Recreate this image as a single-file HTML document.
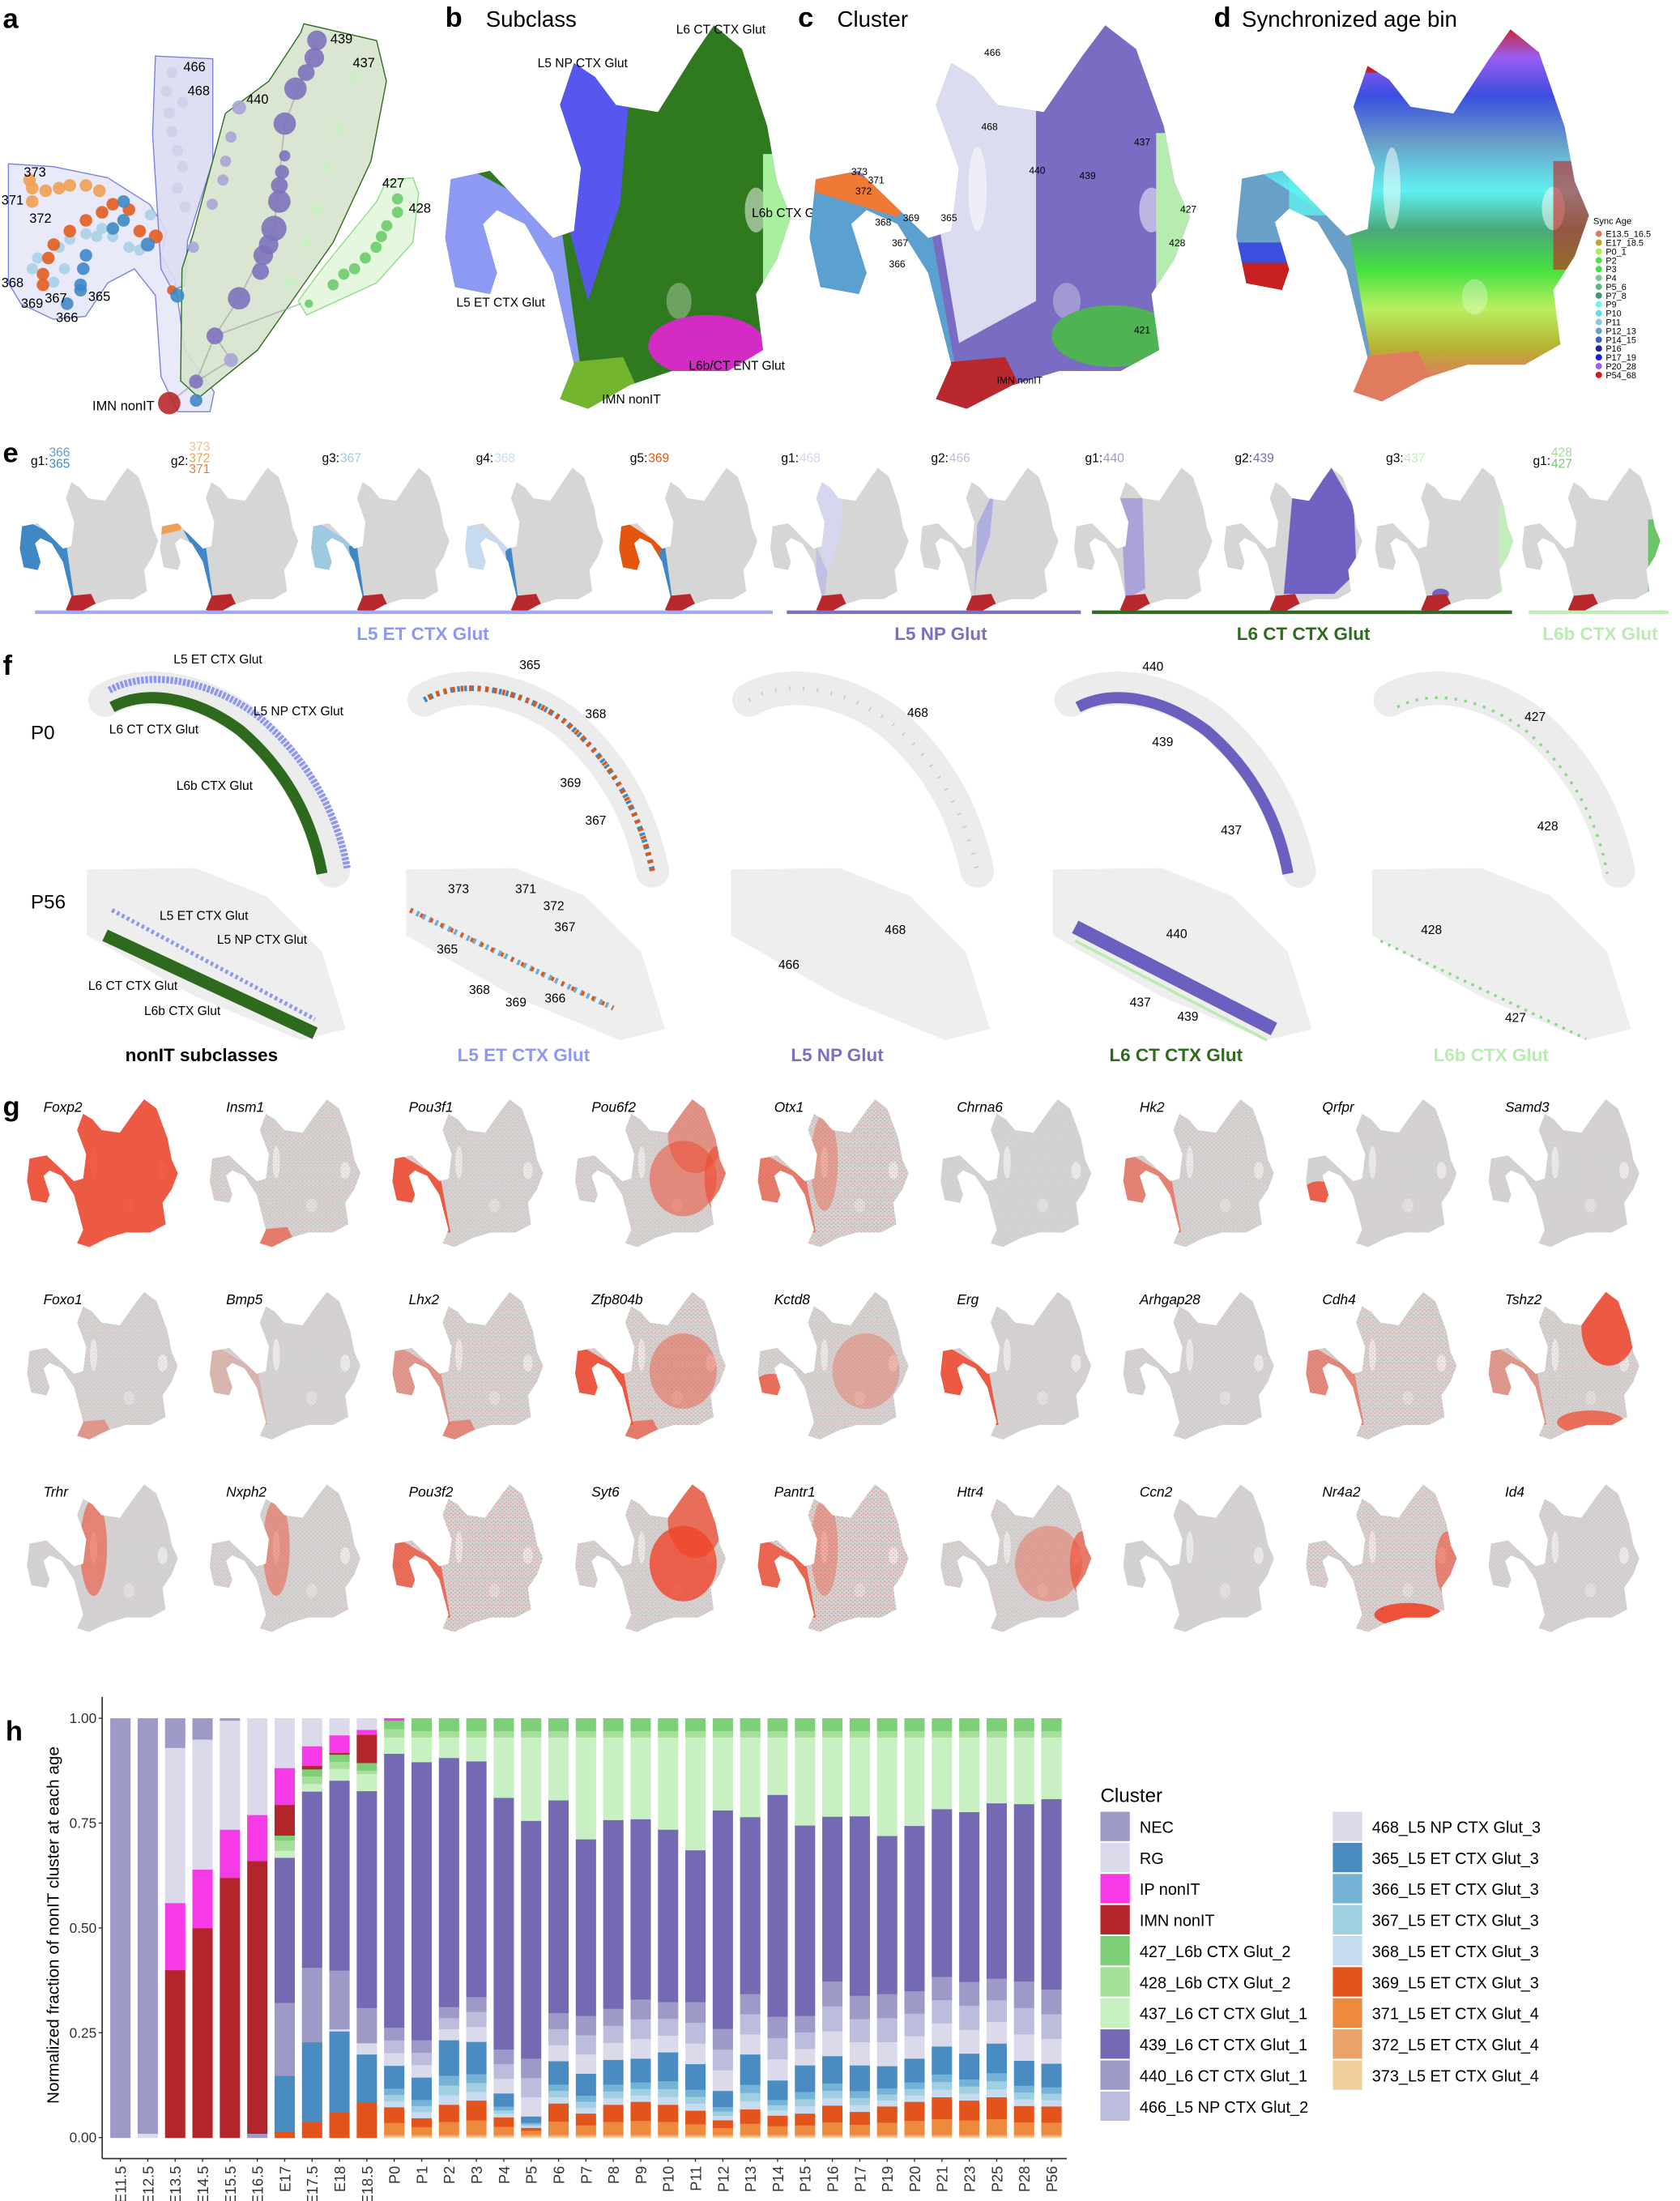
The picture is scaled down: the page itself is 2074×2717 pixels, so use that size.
<!DOCTYPE html>
<html><head><meta charset="utf-8">
<style>
html,body{margin:0;padding:0;background:#fff;}
svg{display:block;font-family:"Liberation Sans",Arial,sans-serif;}
</style></head>
<body>
<svg id="s" width="2074" height="2717" viewBox="0 0 1200 1572" preserveAspectRatio="none" xmlns="http://www.w3.org/2000/svg"></svg>
<script>
const SIL="M95,30 L110,40 L125,60 L155,65 L180,25 L195,3 L215,20 L233,75 L240,115 L250,140 L240,170 L225,195 L230,235 L205,250 L165,250 L135,260 L105,277 L85,270 L95,245 L80,180 L60,145 L40,135 L30,145 L40,180 L35,195 L10,190 L3,155 L7,113 L35,107 L80,155 L95,150 L100,105 L85,60 Z";
let h='';
h+=`<defs><clipPath id="u"><path d="${SIL}"/></clipPath>
<pattern id="sp" width="7" height="7" patternUnits="userSpaceOnUse"><circle cx="1" cy="1" r="1.1" fill="#f0442a"/><circle cx="4.5" cy="4" r="1.1" fill="#f0442a"/></pattern>
<linearGradient id="ag" x1="0" y1="0" x2="0" y2="1">
<stop offset="0" stop-color="#d0201c"/><stop offset="0.08" stop-color="#9a5cf0"/><stop offset="0.18" stop-color="#3a4ee0"/><stop offset="0.3" stop-color="#6aa0c8"/><stop offset="0.42" stop-color="#5ff0f0"/><stop offset="0.52" stop-color="#4aa87a"/><stop offset="0.62" stop-color="#44e040"/><stop offset="0.72" stop-color="#b8f060"/><stop offset="0.82" stop-color="#b8b030"/><stop offset="0.9" stop-color="#e07b5e"/><stop offset="1" stop-color="#e07b5e"/></linearGradient>
</defs>`;
function T(x,y,s,t,o){o=o||'';return `<text x="${x}" y="${y}" font-size="${s}" ${o}>${t}</text>`;}
function umap(x,y,sx,sy,inner){return `<g transform="translate(${x},${y}) scale(${sx},${sy})"><g clip-path="url(#u)">${inner}</g></g>`;}
const R=(x,y,w,hh,f,o)=>`<rect x="${x}" y="${y}" width="${w}" height="${hh}" fill="${f}" ${o?'opacity="'+o+'"':''}/>`;
const E=(cx,cy,rx,ry,f,o)=>`<ellipse cx="${cx}" cy="${cy}" rx="${rx}" ry="${ry}" fill="${f}" ${o?'opacity="'+o+'"':''}/>`;
const P=(pts,f,o)=>`<polygon points="${pts}" fill="${f}" ${o?'opacity="'+o+'"':''}/>`;
const ETARM="0,95 85,140 100,250 80,250 60,150 0,200";
const NPA="82,20 135,45 128,130 105,200 92,150 80,60";
const IMN="80,245 130,240 140,262 105,285 80,285";
const holes=E(112,120,6,30,'#fff',0.5)+E(225,135,8,16,'#fff',0.5)+E(170,200,9,13,'#fff',0.3)+E(45,160,7,13,'#fff',0.4);

// panel a
h+=T(2,20,20,'a','font-weight="bold"');
const cx=v=>v/2.606, cy=v=>v/5.21;
function hull(pts,f,s){return `<polygon points="${pts.map(p=>p.join(',')).join(' ')}" fill="${f}" stroke="${s}" stroke-width="0.8" fill-opacity="0.9"/>`;}
h+=hull([[6,117],[38,119],[77,127],[107,146],[119,165],[115,182],[125,200],[132,250],[153,280],[150,294],[127,294],[115,269],[111,211],[96,192],[77,202],[61,226],[38,228],[15,217],[6,202]],'#e6e8f8','#7b80e0');
h+=hull([[111,40],[152,42],[152,115],[134,172],[132,204],[123,207],[115,192],[109,96]],'#dcdcf2','#7b80e0');
h+=hull([[217,17],[269,29],[276,58],[265,115],[238,173],[184,250],[142,284],[129,272],[130,192],[138,167],[161,81],[192,58],[215,23]],'#d6e3cd','#2e6b1e');
h+=hull([[276,129],[295,127],[299,138],[295,173],[269,202],[219,225],[213,215],[230,192],[269,144]],'#e2f6dc','#90dc8a');
function chain(pts,col,r){let s='';for(const p of pts){s+=`<circle cx="${cx(p[0])}" cy="${cy(p[1])}" r="${p[2]||r}" fill="${col}" opacity="0.9"/>`;}return s;}
h+=`<path d="M${cx(590)},${cy(150)} L${cx(530)},${cy(460)} L${cx(510)},${cy(850)} L${cx(445)},${cy(1110)} L${cx(400)},${cy(1250)} L${cx(365)},${cy(1420)} L${cx(315)},${cy(1500)}" stroke="#999" stroke-width="1" fill="none" opacity="0.6"/>`;
h+=`<path d="M${cx(400)},${cy(1250)} L${cx(560)},${cy(1130)} M${cx(400)},${cy(1250)} L${cx(430)},${cy(1340)} L${cx(365)},${cy(1420)}" stroke="#999" stroke-width="1" fill="none" opacity="0.6"/>`;
h+=chain([[320,270],[310,340],[340,380],[315,420],[320,490],[330,560],[340,620],[330,700],[345,770]],'#cfcfe8',4);
h+=chain([[660,290],[630,480],[610,620],[590,780],[570,900],[540,1050]],'#c9f0c2',4);
h+=chain([[445,400,5],[430,510],[420,600],[415,670],[395,760],[360,920],[430,1340,5]],'#a9a4d6',4);
h+=chain([[590,150,7],[585,215,7],[570,270,6],[550,330,8],[530,460,8],[530,580,4],[525,640,5],[520,690,6],[520,750,8],[510,850,9],[500,910,7],[490,950,7],[485,1010,6],[445,1110,8],[400,1250,6],[365,1420,5]],'#7d72bd',5);
h+=chain([[740,740],[740,790],[720,840],[710,880],[700,920],[680,960],[660,1000],[640,1020],[620,1060],[575,1130,3]],'#6ccc6a',4);
h+=chain([[190,850],[160,870],[130,890],[110,920],[70,960],[60,1000],[100,1050],[120,1000],[240,920],[260,930],[280,800],[180,880],[210,880]],'#a9d2e6',4);
h+=chain([[55,670],[60,700],[85,710],[130,690],[160,690],[185,710],[60,750],[110,700]],'#f0a050',4.5);
h+=chain([[210,760],[190,790],[160,820],[130,860],[100,910],[90,960],[80,1020],[80,1060],[240,780],[260,860],[290,880,5],[320,1080,3.5]],'#e35d20',4.5);
h+=chain([[230,750],[230,820],[210,850],[275,910,5],[160,950],[155,1000],[150,1060],[150,1080],[125,1130],[330,1100,5],[365,1490]],'#3f88c5',4.5);
h+=`<circle cx="${cx(315)}" cy="${cy(1500)}" r="8" fill="#b8282c" opacity="0.9"/>`;
const al=[[131,51,'466'],[134,68,'468'],[176,74,'440'],[236,31,'439'],[252,48,'437'],[273,134,'427'],[292,152,'428'],[17,126,'373'],[1,146,'371'],[21,159,'372'],[1,205,'368'],[15,220,'369'],[32,216,'367'],[63,215,'365'],[40,230,'366']];
for(const a of al)h+=T(a[0],a[1],9.5,a[2]);
h+=T(66,293,9.5,'IMN nonIT');

// panel b
h+=T(318,19,20,'b','font-weight="bold"')+T(347,19,16,'Subclass');
h+=umap(315,15,1,1,R(0,0,260,290,'#2f7a1f')+holes+P(ETARM,'#8d9af3')+P("0,95 80,150 95,250 0,250",'#8d9af3')+P(NPA,'#5757ef')+R(230,95,30,110,'#a8f0a0')+E(190,232,42,22,'#d42bc4')+P(IMN,'#74b530'));
h+=T(483,24,9,'L6 CT CTX Glut')+T(384,48,9,'L5 NP CTX Glut')+T(537,155,9,'L6b CTX Glut')+T(326,219,9,'L5 ET CTX Glut')+T(492,264,9,'L6b/CT ENT Glut')+T(430,288,9,'IMN nonIT');

// panel c
h+=T(570,19,20,'c','font-weight="bold"')+T(598,19,16,'Cluster');
h+=umap(575,15,1.1,1,R(0,0,260,290,'#7a6cc2')+P("82,20 150,40 150,200 100,230 80,100",'#dcdcf0')+holes+R(228,80,40,130,'#b8ebb0')+E(200,225,40,22,'#4fb354')+P("0,95 82,150 98,250 82,250 0,260",'#5aa0d0')+P("0,95 70,125 60,140 0,120",'#ee7a35')+P("40,135 60,145 80,180 60,200 40,180",'#e8662a',0.7)+P(IMN,'#b8282c'));
const cl=[[703,40,'466'],[701,93,'468'],[735,124,'440'],[771,128,'439'],[810,104,'437'],[843,152,'427'],[835,176,'428'],[810,238,'421'],[608,125,'373'],[620,131,'371'],[611,139,'372'],[625,161,'368'],[645,158,'369'],[672,158,'365'],[637,176,'367'],[635,191,'366']];
for(const a of cl)h+=T(a[0],a[1],7,a[2]);
h+=T(712,274,7,'IMN nonIT');

// panel d
h+=T(867,19,20,'d','font-weight="bold"')+T(887,19,16,'Synchronized age bin');
h+=umap(880,18,1.02,0.97,R(0,0,260,290,'url(#ag)')+holes+P("0,95 82,150 98,250 82,250 0,260",'#6aa0c8')+R(0,95,40,12,'#c82020')+R(0,175,45,25,'#c82020')+R(0,160,45,15,'#3a4ee0')+R(40,110,40,30,'#5ff0f0',0.8)+R(85,20,30,15,'#c82020')+R(225,100,30,80,'#c82020',0.6)+P(IMN,'#e07b5e'));
h+=T(1138,160,6.5,'Sync Age');
const ages=[['E13.5_16.5','#e07b5e'],['E17_18.5','#b8a830'],['P0_1','#a8f050'],['P2','#50e040'],['P3','#40e040'],['P4','#7cc890'],['P5_6','#5cb880'],['P7_8','#3a9a70'],['P9','#70f5f0'],['P10','#55e0e8'],['P11','#90c8d8'],['P12_13','#6aa0c8'],['P14_15','#3a60b8'],['P16','#2020a0'],['P17_19','#1a1aee'],['P20_28','#a060f0'],['P54_68','#c82020']];
ages.forEach((a,i)=>{const y=167+i*6.3;h+=`<circle cx="1142" cy="${y}" r="2.3" fill="${a[1]}"/>`+T(1147,y+2.3,6.3,a[0]);});

// panel e
h+=T(2,330,20,'e','font-weight="bold"');
const eo=[13,113,221,331,441,549,656,766,873,981,1086];
const ein=[
 P(ETARM,'#3f88c5')+P("0,95 82,150 98,250 82,250 0,260",'#3f88c5'),
 P("0,95 45,100 40,120 0,130",'#f0a050')+P("45,120 85,150 98,250 85,250 60,150",'#3f88c5'),
 P("0,95 82,150 98,250 82,250 0,260",'#9ecae1')+P("70,150 85,150 98,250 85,250",'#3f88c5'),
 P("0,95 82,150 98,250 82,250 0,260",'#c6dbef')+P("75,160 85,150 98,250 85,250",'#3f88c5'),
 P("0,95 82,150 98,250 82,250 0,260",'#e6550d')+P("75,160 85,150 98,250 85,250",'#3f88c5'),
 P(NPA,'#d6d6ef')+P("85,150 105,200 100,250 85,250",'#c0bfe6'),
 P("105,110 135,45 128,130 105,200 100,250",'#b0aede'),
 P("85,60 125,60 130,230 95,250",'#a9a3d8'),
 P("125,60 195,3 235,75 240,200 200,240 130,240 110,240",'#6f62c0'),
 R(225,70,40,170,'#c3eebb')+E(120,240,15,10,'#6f62c0'),
 R(228,100,35,150,'#6cc46a')
];
eo.forEach((x,i)=>{h+=umap(x,333,0.4,0.38,R(0,0,260,290,'#d6d6d6')+ein[i]+P(IMN,'#b8282c'));});
const el=[[22,'g1:',[['366','#5aa0d0'],['365','#3f88c5']]],[122,'g2:',[['373','#f0c090'],['372','#f0a050'],['371','#ee7a35']]],[230,'g3:',[['367','#9ecae1']]],[340,'g4:',[['368','#c6dbef']]],[450,'g5:',[['369','#e6550d']]],[558,'g1:',[['468','#d6d6ef']]],[665,'g2:',[['466','#bcbddc']]],[775,'g1:',[['440','#9e9ac8']]],[882,'g2:',[['439','#7469b3']]],[990,'g3:',[['437','#c3eebb']]],[1095,'g1:',[['428','#a1d99b'],['427','#78c679']]]];
for(const e of el){const n=e[2].length;const y0=n==1?330:(n==2?326:322);h+=T(e[0],n==1?330:332,9,e[1]);e[2].forEach((c,j)=>{h+=T(e[0]+13,y0+j*8,9,c[0],`fill="${c[1]}"`);});}
h+=R(25,436,527,2.5,'#a0a8f5')+R(562,436,210,2.5,'#7b6fc4')+R(780,436,300,2.5,'#2e6b1e')+R(1092,436,100,2.5,'#b8f0b0');
h+=T(302,457,13,'L5 ET CTX Glut','font-weight="bold" fill="#8f98f0" text-anchor="middle"')+T(672,457,13,'L5 NP Glut','font-weight="bold" fill="#7b6fc4" text-anchor="middle"')+T(931,457,13,'L6 CT CTX Glut','font-weight="bold" fill="#2e6b1e" text-anchor="middle"')+T(1143,457,13,'L6b CTX Glut','font-weight="bold" fill="#b8ecb0" text-anchor="middle"');

// panel f
h+=T(2,482,20,'f','font-weight="bold"');
h+=T(22,528,14,'P0')+T(22,649,14,'P56');
const fo=[0,228,460,690,918];
const arc="M75,500 C100,485 140,490 175,515 C205,540 228,575 238,622";
const arcO="M78,493 C105,478 150,485 185,512 C215,538 240,575 248,620";
const arcI="M80,505 C105,492 140,498 172,522 C200,546 222,580 230,624";
const wedge="62,621 140,620 190,640 230,680 247,735 215,743 140,712 62,668";
fo.forEach((o,i)=>{
 h+=`<g transform="translate(${o},0)">`;
 h+=`<path d="${arc}" stroke="#ececec" stroke-width="24" fill="none" stroke-linecap="round"/>`;
 h+=`<polygon points="${wedge}" fill="#eeeeee"/>`;
 if(i==0){h+=`<path d="${arcO}" stroke="#8f96f0" stroke-width="5" fill="none" stroke-dasharray="2 1"/><path d="${arcI}" stroke="#2d6a1e" stroke-width="8" fill="none"/>`;
  h+=`<path d="M75,668 L225,738" stroke="#2d6a1e" stroke-width="9"/><path d="M80,650 L225,728" stroke="#8f96f0" stroke-width="3" stroke-dasharray="2 2"/>`;}
 if(i==1){h+=`<path d="${arc}" stroke="#3f88c5" stroke-width="4" fill="none" stroke-dasharray="2 3"/><path d="${arc}" stroke="#e6550d" stroke-width="4" fill="none" stroke-dasharray="2 4" stroke-dashoffset="2.5"/>`;
  h+=`<path d="M65,650 L210,720" stroke="#6baed6" stroke-width="4" stroke-dasharray="2 3"/><path d="M65,650 L210,720" stroke="#e6550d" stroke-width="3" stroke-dasharray="2 6"/>`;}
 if(i==2){h+=`<path d="${arc}" stroke="#c8c6ea" stroke-width="3" fill="none" stroke-dasharray="1 9"/>`;}
 if(i==3){h+=`<path d="${arcI}" stroke="#6b5fc0" stroke-width="8" fill="none"/><path d="M78,662 L220,735" stroke="#6b5fc0" stroke-width="10"/><path d="M78,672 L215,743" stroke="#b8ecb0" stroke-width="2"/>`;}
 if(i==4){h+=`<path d="${arcI}" stroke="#8ad888" stroke-width="2" fill="none" stroke-dasharray="2 5"/><path d="M68,672 L215,742" stroke="#8ad888" stroke-width="2" stroke-dasharray="2 4"/>`;}
 h+='</g>';});
const fl=[[124,474,'L5 ET CTX Glut'],[181,511,'L5 NP CTX Glut'],[78,524,'L6 CT CTX Glut'],[126,564,'L6b CTX Glut'],[114,657,'L5 ET CTX Glut'],[155,674,'L5 NP CTX Glut'],[63,707,'L6 CT CTX Glut'],[103,725,'L6b CTX Glut'],
[371,478,'365'],[418,513,'368'],[400,562,'369'],[418,589,'367'],[320,638,'373'],[368,638,'371'],[388,650,'372'],[396,665,'367'],[312,681,'365'],[335,710,'368'],[361,719,'369'],[389,716,'366'],
[648,512,'468'],[556,692,'466'],[632,667,'468'],[816,479,'440'],[823,533,'439'],[872,596,'437'],[833,670,'440'],[807,719,'437'],[841,729,'439'],[1089,515,'427'],[1098,593,'428'],[1015,667,'428'],[1075,730,'427']];
for(const a of fl)h+=T(a[0],a[1],9,a[2]);
h+=T(144,758,13,'nonIT subclasses','font-weight="bold" text-anchor="middle"')+T(374,758,13,'L5 ET CTX Glut','font-weight="bold" fill="#8f98f0" text-anchor="middle"')+T(598,758,13,'L5 NP Glut','font-weight="bold" fill="#7b6fc4" text-anchor="middle"')+T(840,758,13,'L6 CT CTX Glut','font-weight="bold" fill="#2e6b1e" text-anchor="middle"')+T(1065,758,13,'L6b CTX Glut','font-weight="bold" fill="#b8ecb0" text-anchor="middle"');

// panel g
h+=T(2,797,20,'g','font-weight="bold"');
const RD='#f0442a';
const reg={all:R(0,0,260,290,RD),et:P("0,95 82,150 98,250 82,250 0,260",RD),etb:E(25,180,30,25,RD),top:E(200,70,45,70,RD),center:E(180,150,55,70,RD),left:E(112,120,22,90,RD),bottom:E(170,245,55,22,RD),imn:P(IMN,RD),right:E(235,150,20,60,RD),sp:R(0,0,260,290,'url(#sp)')};
function G(spec){let s='';for(const k in spec){s+=`<g opacity="${spec[k]}">${reg[k]}</g>`;}return s;}
const genes=[
['Foxp2',{all:0.85,et:0.0}],['Insm1',{sp:0.25,imn:0.6}],['Pou3f1',{sp:0.2,et:0.85}],['Pou6f2',{sp:0.2,center:0.5,top:0.45,right:0.6}],['Otx1',{sp:0.4,et:0.6,left:0.35}],['Chrna6',{sp:0.08}],['Hk2',{sp:0.2,et:0.55}],['Qrfpr',{sp:0.1,etb:0.8}],['Samd3',{sp:0.1}],
['Foxo1',{sp:0.18,imn:0.4}],['Bmp5',{sp:0.1,et:0.2}],['Lhx2',{sp:0.3,et:0.4,imn:0.5}],['Zfp804b',{sp:0.35,et:0.85,center:0.4,imn:0.6}],['Kctd8',{sp:0.25,center:0.3,etb:0.7}],['Erg',{sp:0.12,et:0.85}],['Arhgap28',{sp:0.15}],['Cdh4',{sp:0.35,et:0.5}],['Tshz2',{sp:0.25,top:0.85,bottom:0.7,et:0.4}],
['Trhr',{sp:0.1,left:0.55}],['Nxph2',{sp:0.2,left:0.45}],['Pou3f2',{sp:0.45,et:0.7}],['Syt6',{sp:0.25,center:0.8,top:0.7}],['Pantr1',{sp:0.5,et:0.75,left:0.35}],['Htr4',{sp:0.2,right:0.6,center:0.35}],['Ccn2',{sp:0.1}],['Nr4a2',{sp:0.35,bottom:0.9,right:0.55}],['Id4',{sp:0.15}]];
genes.forEach((g,i)=>{const r=Math.floor(i/9),c=i%9;const x=18+c*130.5,y=784+r*137.5;
 h+=umap(x,y,0.436,0.385,R(0,0,260,290,'#d3d3d3')+holes+G(g[1]));
 h+=T(x+13,y+10,10,g[0],'font-style="italic"');});

// panel h
h+=T(4,1243,20,'h','font-weight="bold"');
const C={NEC:'#9e9ac8',RG:'#dadaeb',IP:'#f63ae8',IMN:'#b2262b',c427:'#7dcf78',c428:'#a5df9a',c437:'#c9f0c2',c439:'#7469b3',c440:'#9e9ac8',c466:'#bcbddc',c468:'#dadaeb',c365:'#4a8bc2',c366:'#74b2d6',c367:'#9fcfe0',c368:'#c6dbef',c369:'#e3531c',c371:'#ee8a3e',c372:'#eaa36b',c373:'#f2cf9c'};
const y0=1526.7,yH=299.5,x0=86,dx=19.56,bw=14.5;
const pre=[
[['NEC',1]],[['RG',.01],['NEC',.99]],[['IMN',.40],['IP',.16],['RG',.37],['NEC',.07]],[['IMN',.50],['IP',.14],['RG',.31],['NEC',.05]],[['IMN',.62],['IP',.115],['RG',.26],['NEC',.005]],[['c440',.01],['IMN',.65],['IP',.11],['RG',.23]],
[['c369',.014],['c365',.134],['c440',.174],['c439',.346],['c437',.017],['c428',.024],['c427',.012],['IMN',.073],['IP',.088],['RG',.118]],
[['c369',.038],['c365',.19],['c440',.178],['c439',.42],['c437',.018],['c428',.018],['c427',.017],['IMN',.008],['IP',.047],['RG',.066]],
[['c369',.061],['c365',.193],['c468',.005],['c440',.14],['c439',.453],['c437',.028],['c428',.017],['c427',.017],['IMN',.004],['IP',.042],['RG',.04]],
[['c369',.085],['c365',.114],['c468',.027],['c440',.084],['c439',.517],['c437',.041],['c428',.008],['c427',.018],['IMN',.067],['IP',.012],['RG',.027]]];
const post=[[.916,.263,.172,.073],[.896,.233,.144,.047],[.906,.312,.233,.079],[.898,.336,.229,.089],[.811,.211,.106,.049],[.756,.189,.051,.024],[.805,.298,.183,.082],[.712,.291,.153,.058],[.758,.308,.186,.079],[.760,.33,.189,.086],[.735,.324,.204,.079],[.686,.324,.176,.065],[.781,.26,.112,.042],[.765,.343,.199,.068],[.818,.289,.137,.053],[.745,.291,.173,.058],[.766,.373,.195,.077],[.767,.339,.173,.062],[.72,.343,.171,.075],[.744,.35,.189,.086],[.784,.384,.218,.097],[.777,.372,.201,.089],[.798,.38,.225,.097],[.796,.373,.184,.076],[.808,.354,.177,.075]];
const bars=pre.slice();
post.forEach((p,i)=>{const [tp,bp,bt,ot]=p;const lt=(bt-ot)*0.45,mid=(bp-bt)/3;
 let arr=[['c373',.004],['c372',.004],['c371',ot*0.38],['c369',ot*0.62-.008],['c368',lt/3],['c367',lt/3],['c366',lt/3],['c365',(bt-ot)-lt],['c468',mid],['c466',mid],['c440',mid],['c439',tp-bp]];
 const top=i==0?[['c437',1-tp-.045],['c428',.02],['c427',.02],['IP',.005]]:[['c437',1-tp-.045],['c428',.015],['c427',.03]];
 bars.push(arr.concat(top));});
const labs=['E11.5','E12.5','E13.5','E14.5','E15.5','E16.5','E17','E17.5','E18','E18.5','P0','P1','P2','P3','P4','P5','P6','P7','P8','P9','P10','P11','P12','P13','P14','P15','P16','P17','P19','P20','P21','P23','P25','P28','P56'];
bars.forEach((b,i)=>{const x=x0+i*dx-bw/2;let acc=0;for(const s of b){const v=Math.max(0,s[1]);const yt=y0-(acc+v)*yH;h+=`<rect x="${x}" y="${yt}" width="${bw}" height="${v*yH+0.3}" fill="${C[s[0]]}"/>`;acc+=v;}
 h+=`<line x1="${x0+i*dx}" y1="1541.7" x2="${x0+i*dx}" y2="1544" stroke="#333" stroke-width="0.8"/>`;
 h+=`<text transform="translate(${x0+i*dx+4},1547) rotate(-90)" font-size="10.5" fill="#333" text-anchor="end">${labs[i]}</text>`;});
h+=`<line x1="73" y1="1212" x2="73" y2="1541.7" stroke="#333" stroke-width="1"/><line x1="73" y1="1541.7" x2="762" y2="1541.7" stroke="#333" stroke-width="1"/>`;
['0.00','0.25','0.50','0.75','1.00'].forEach((t,i)=>{const y=y0-i*0.25*yH;h+=T(69,y+3.5,10,t,'text-anchor="end" fill="#333"')+`<line x1="70.5" y1="${y}" x2="73" y2="${y}" stroke="#333" stroke-width="0.8"/>`;});
h+=`<text transform="translate(42,1375) rotate(-90)" font-size="12" text-anchor="middle">Normalized fraction of nonIT cluster at each age</text>`;
h+=T(786,1287,14,'Cluster');
const leg1=[['NEC','NEC'],['RG','RG'],['IP','IP nonIT'],['IMN','IMN nonIT'],['c427','427_L6b CTX Glut_2'],['c428','428_L6b CTX Glut_2'],['c437','437_L6 CT CTX Glut_1'],['c439','439_L6 CT CTX Glut_1'],['c440','440_L6 CT CTX Glut_1'],['c466','466_L5 NP CTX Glut_2']];
const leg2=[['c468','468_L5 NP CTX Glut_3'],['c365','365_L5 ET CTX Glut_3'],['c366','366_L5 ET CTX Glut_3'],['c367','367_L5 ET CTX Glut_3'],['c368','368_L5 ET CTX Glut_3'],['c369','369_L5 ET CTX Glut_3'],['c371','371_L5 ET CTX Glut_4'],['c372','372_L5 ET CTX Glut_4'],['c373','373_L5 ET CTX Glut_4']];
leg1.forEach((l,i)=>{const y=1294+i*22.2;h+=R(786,y,21,21,C[l[0]])+T(814,y+15,11.5,l[1]);});
leg2.forEach((l,i)=>{const y=1294+i*22.2;h+=R(952,y,21,21,C[l[0]])+T(980,y+15,11.5,l[1]);});
document.getElementById('s').innerHTML=h;
</script>
</body></html>
